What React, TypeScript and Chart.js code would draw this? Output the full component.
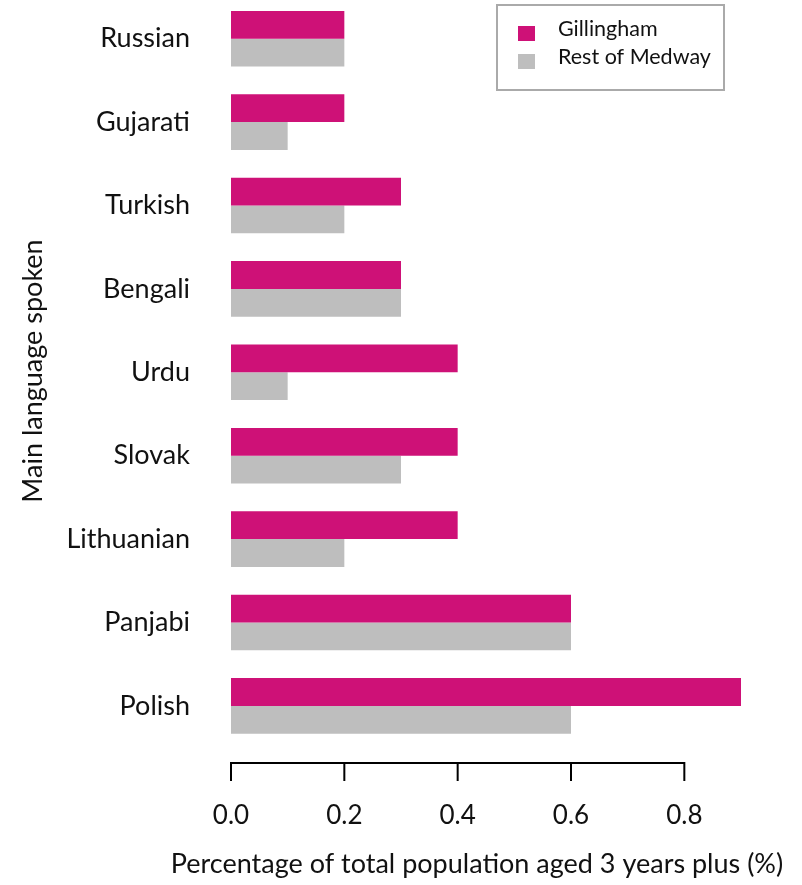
import React, { useEffect, useRef } from "react";
import { Chart, registerables } from "chart.js";

Chart.register(...registerables);

const languages = ["Russian", "Gujarati", "Turkish", "Bengali", "Urdu", "Slovak", "Lithuanian", "Panjabi", "Polish"];
const gillingham = [0.2, 0.2, 0.3, 0.3, 0.4, 0.4, 0.4, 0.6, 0.9];
const restOfMedway = [0.2, 0.1, 0.2, 0.3, 0.1, 0.3, 0.2, 0.6, 0.6];
const seriesNames = ["Gillingham", "Rest of Medway"];
const axisTicks = [0, 0.2, 0.4, 0.6, 0.8];
const xTitle = "Percentage of total population aged 3 years plus (%)";
const yTitle = "Main language spoken";

const PINK = "rgb(206,17,119)";
const GRAY = "rgb(190,190,190)";
const FONT = "Lato";
const OFF = 3; // canvas is shifted up by 3px

export default function App() {
  const ref = useRef<HTMLCanvasElement | null>(null);
  useEffect(() => {
    if (!ref.current) return;
    const decor = {
      id: "decor",
      afterDraw(chart: any) {
        const ctx = chart.ctx as CanvasRenderingContext2D;
        const xs = chart.scales.x;
        ctx.save();
        // axis line and tick marks
        ctx.strokeStyle = "#000";
        ctx.lineWidth = 2;
        const ay = 763 + OFF;
        const x0 = xs.getPixelForValue(axisTicks[0]);
        const x1 = xs.getPixelForValue(axisTicks[axisTicks.length - 1]);
        ctx.beginPath();
        ctx.moveTo(x0 - 1, ay);
        ctx.lineTo(x1 + 1, ay);
        for (const t of axisTicks) {
          const px = xs.getPixelForValue(t);
          ctx.moveTo(px, ay);
          ctx.lineTo(px, 781 + OFF);
        }
        ctx.stroke();
        // titles
        ctx.fillStyle = "#111";
        ctx.font = `27px ${FONT}`;
        ctx.textAlign = "center";
        ctx.textBaseline = "middle";
        ctx.fillText(xTitle, 477, 864 + OFF);
        ctx.save();
        ctx.translate(33, 371 + OFF);
        ctx.rotate(-Math.PI / 2);
        ctx.fillText(yTitle, 0, 0);
        ctx.restore();
        // legend
        ctx.fillStyle = "#fff";
        ctx.fillRect(497, 5 + OFF, 227, 85);
        ctx.strokeStyle = "#aaaaaa";
        ctx.lineWidth = 2;
        ctx.strokeRect(497, 5 + OFF, 227, 85);
        const cols = [PINK, GRAY];
        const ys = [33, 61];
        ctx.font = `21.5px ${FONT}`;
        ctx.textAlign = "left";
        for (let i = 0; i < 2; i++) {
          ctx.fillStyle = cols[i];
          ctx.fillRect(518, ys[i] - 7 + OFF, 17, 15);
          ctx.fillStyle = "#111";
          ctx.fillText(seriesNames[i], 558, ys[i] - 4 + OFF);
        }
        ctx.restore();
      },
    };
    const chart = new Chart(ref.current, {
      type: "bar",
      data: {
        labels: languages,
        datasets: [
          { label: seriesNames[0], data: gillingham, backgroundColor: PINK, borderWidth: 0 },
          { label: seriesNames[1], data: restOfMedway, backgroundColor: GRAY, borderWidth: 0 },
        ],
      },
      options: {
        indexAxis: "y",
        responsive: false,
        animation: false,
        devicePixelRatio: 1,
        layout: { padding: { left: 0, right: 61, top: 0, bottom: 0 } },
        datasets: { bar: { categoryPercentage: 2 / 3, barPercentage: 1 } },
        plugins: { legend: { display: false }, tooltip: { enabled: false } },
        scales: {
          x: {
            type: "linear",
            min: 0,
            max: 0.9,
            grid: { display: false },
            border: { display: false },
            afterFit: (s: any) => { s.height = 137.4; s.paddingLeft = 0; s.paddingRight = 0; },
            ticks: {
              stepSize: 0.2,
              includeBounds: false,
              padding: 44,
              color: "#111",
              font: { family: FONT, size: 26 },
              callback: (v: any) => Number(v).toFixed(1),
            },
          },
          y: {
            type: "category",
            grid: { display: false },
            border: { display: false },
            afterFit: (s: any) => { s.width = 231; s.paddingTop = 0; s.paddingBottom = 0; },
            ticks: { padding: 33, color: "#111", font: { family: FONT, size: 27 } },
          },
        },
      },
      plugins: [decor],
    });
    return () => chart.destroy();
  }, []);
  return (
    <div style={{ position: "absolute", left: 0, top: -OFF, width: 802, height: 888 }}>
      <canvas ref={ref} width={802} height={888} style={{ width: 802, height: 888, display: "block" }} />
    </div>
  );
}
